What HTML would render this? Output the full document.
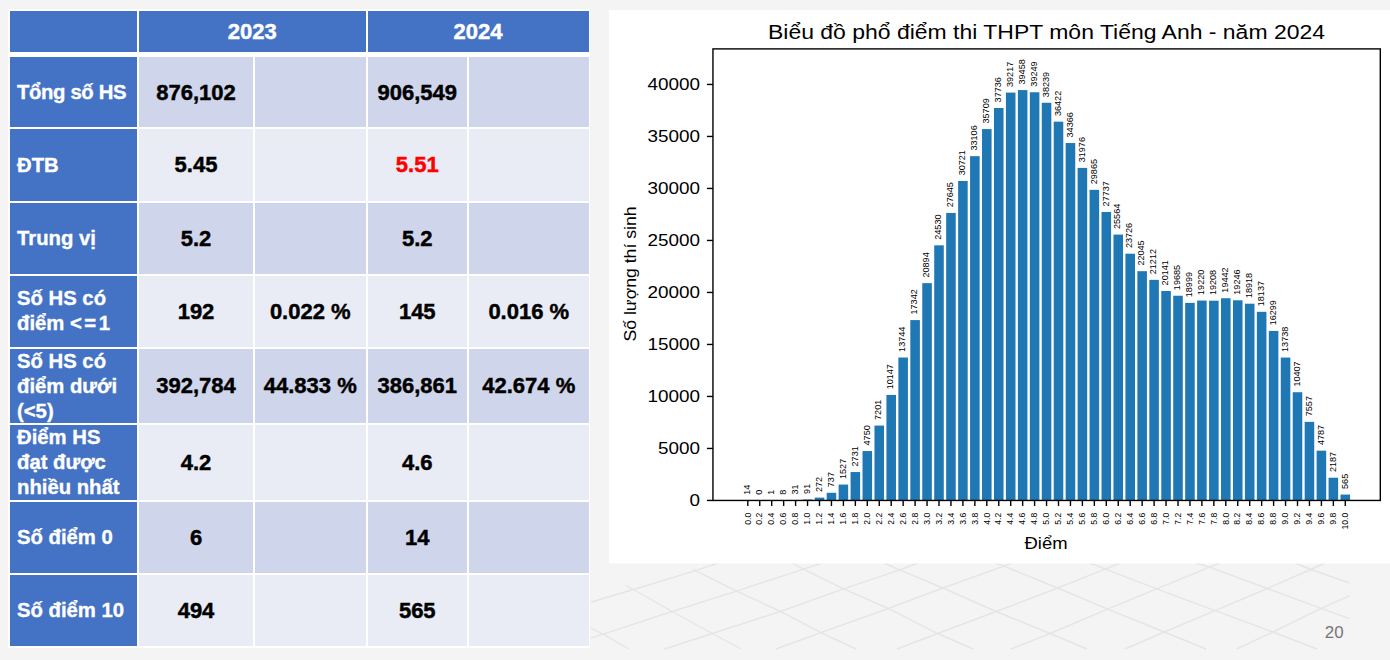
<!DOCTYPE html><html><head><meta charset="utf-8"><style>
html,body{margin:0;padding:0;}
body{width:1390px;height:660px;position:relative;overflow:hidden;background:#f4f4f4;font-family:"Liberation Sans",sans-serif;}
.c{position:absolute;padding-top:1px;display:flex;align-items:center;justify-content:center;box-sizing:border-box;font-weight:bold;color:#000;font-size:22px;-webkit-text-stroke:0.45px currentColor;}
.h{color:#fff;background:#4472c4;}
.f{color:#fff;background:#4472c4;justify-content:flex-start;padding-left:7px;padding-top:0.6px;font-size:20.3px;line-height:25px;-webkit-text-stroke:0.35px #fff;}
.b1{background:#cfd5ea;}.b2{background:#e9ebf5;}
</style></head><body>
<svg style="position:absolute;left:0;top:0" width="1390" height="660"><polyline points="591,602 633.5,589.5 695.6,570.6 718,563" fill="none" stroke="#e5e5e5" stroke-width="1.4"/><polyline points="591,638 603.2,634.2 672.1,611.5 736.5,591.1 803.5,569.1 822,563" fill="none" stroke="#e5e5e5" stroke-width="1.4"/><polyline points="664.6,649 712.3,633.5 780.5,611.5 843.6,588.8 899.7,569.8 918,563" fill="none" stroke="#e5e5e5" stroke-width="1.4"/><polyline points="776,649 820.9,632.7 888.3,608.5 942.9,588 1003.8,566.1 1012,563" fill="none" stroke="#e5e5e5" stroke-width="1.4"/><polyline points="897,649 937.6,633.5 996.2,611.5 1057.6,588 1105.3,569.1 1120,563" fill="none" stroke="#e5e5e5" stroke-width="1.4"/><polyline points="1011,649 1050,633.5 1107.6,609.2 1156.8,588.8 1209.6,567.1 1220,563" fill="none" stroke="#e5e5e5" stroke-width="1.4"/><polyline points="1125,649 1164.4,632 1215.1,610.6 1267.3,588.5 1310.9,569.5 1325,563" fill="none" stroke="#e5e5e5" stroke-width="1.4"/><polyline points="1236.5,649 1272.9,632 1321.2,608.3 1349.6,595.6" fill="none" stroke="#e5e5e5" stroke-width="1.4"/><polyline points="591,628.2 603.2,634.2 629,649" fill="none" stroke="#e5e5e5" stroke-width="1.4"/><polyline points="626,585.5 633.5,589.5 672.1,611.5 712.3,633.5 741,649" fill="none" stroke="#e5e5e5" stroke-width="1.4"/><polyline points="693,569.5 695.6,570.6 736.5,591.1 780.5,611.5 820.9,632.7 856,649" fill="none" stroke="#e5e5e5" stroke-width="1.4"/><polyline points="792,563 803.5,569.1 843.6,588.8 888.3,608.5 937.6,633.5 973,649" fill="none" stroke="#e5e5e5" stroke-width="1.4"/><polyline points="884,563 899.7,569.8 942.9,588 996.2,611.5 1050,633.5 1087,649" fill="none" stroke="#e5e5e5" stroke-width="1.4"/><polyline points="995,563 1003.8,566.1 1057.6,588 1107.6,609.2 1164.4,632 1206,649" fill="none" stroke="#e5e5e5" stroke-width="1.4"/><polyline points="1090,563 1105.3,569.1 1156.8,588.8 1215.1,610.6 1272.9,632 1317,649" fill="none" stroke="#e5e5e5" stroke-width="1.4"/><polyline points="1195,563 1209.6,567.1 1267.3,588.5 1321.2,608.3 1349.6,618.6" fill="none" stroke="#e5e5e5" stroke-width="1.4"/><polyline points="1295,563 1310.9,569.5 1349.6,583" fill="none" stroke="#e5e5e5" stroke-width="1.4"/></svg>
<div style="position:absolute;left:8px;top:8.6px;width:582px;height:639px;background:#fff"></div>
<div class="c h" style="left:10px;top:11px;width:127px;height:41px;"><div></div></div>
<div class="c h" style="left:139px;top:11px;width:226.5px;height:41px;"><div>2023</div></div>
<div class="c h" style="left:367.5px;top:11px;width:221px;height:41px;"><div>2024</div></div>
<div class="c f" style="left:10px;top:57px;width:127px;height:70px;"><div><span style="letter-spacing:-0.35px">Tổng số HS</span></div></div>
<div class="c b1" style="left:139px;top:57px;width:114px;height:70px;"><div>876,102</div></div>
<div class="c b1" style="left:255px;top:57px;width:110.5px;height:70px;"><div></div></div>
<div class="c b1" style="left:367.5px;top:57px;width:99.5px;height:70px;"><div>906,549</div></div>
<div class="c b1" style="left:469px;top:57px;width:119.5px;height:70px;"><div></div></div>
<div class="c f" style="left:10px;top:129px;width:127px;height:71.5px;"><div>ĐTB</div></div>
<div class="c b2" style="left:139px;top:129px;width:114px;height:71.5px;"><div>5.45</div></div>
<div class="c b2" style="left:255px;top:129px;width:110.5px;height:71.5px;"><div></div></div>
<div class="c b2" style="left:367.5px;top:129px;width:99.5px;height:71.5px;"><div><span style="color:#ff0000">5.51</span></div></div>
<div class="c b2" style="left:469px;top:129px;width:119.5px;height:71.5px;"><div></div></div>
<div class="c f" style="left:10px;top:202.5px;width:127px;height:71px;"><div>Trung vị</div></div>
<div class="c b1" style="left:139px;top:202.5px;width:114px;height:71px;"><div>5.2</div></div>
<div class="c b1" style="left:255px;top:202.5px;width:110.5px;height:71px;"><div></div></div>
<div class="c b1" style="left:367.5px;top:202.5px;width:99.5px;height:71px;"><div>5.2</div></div>
<div class="c b1" style="left:469px;top:202.5px;width:119.5px;height:71px;"><div></div></div>
<div class="c f" style="left:10px;top:275.5px;width:127px;height:71px;"><div>Số HS có<br>điểm <span style="letter-spacing:2.5px">&lt;=</span>1</div></div>
<div class="c b2" style="left:139px;top:275.5px;width:114px;height:71px;"><div>192</div></div>
<div class="c b2" style="left:255px;top:275.5px;width:110.5px;height:71px;"><div>0.022 %</div></div>
<div class="c b2" style="left:367.5px;top:275.5px;width:99.5px;height:71px;"><div>145</div></div>
<div class="c b2" style="left:469px;top:275.5px;width:119.5px;height:71px;"><div>0.016 %</div></div>
<div class="c f" style="left:10px;top:348.5px;width:127px;height:74.5px;"><div>Số HS có<br>điểm dưới<br>(&lt;5)</div></div>
<div class="c b1" style="left:139px;top:348.5px;width:114px;height:74.5px;"><div>392,784</div></div>
<div class="c b1" style="left:255px;top:348.5px;width:110.5px;height:74.5px;"><div>44.833 %</div></div>
<div class="c b1" style="left:367.5px;top:348.5px;width:99.5px;height:74.5px;"><div>386,861</div></div>
<div class="c b1" style="left:469px;top:348.5px;width:119.5px;height:74.5px;"><div>42.674 %</div></div>
<div class="c f" style="left:10px;top:425px;width:127px;height:75px;"><div>Điểm HS<br>đạt được<br>nhiều nhất</div></div>
<div class="c b2" style="left:139px;top:425px;width:114px;height:75px;"><div>4.2</div></div>
<div class="c b2" style="left:255px;top:425px;width:110.5px;height:75px;"><div></div></div>
<div class="c b2" style="left:367.5px;top:425px;width:99.5px;height:75px;"><div>4.6</div></div>
<div class="c b2" style="left:469px;top:425px;width:119.5px;height:75px;"><div></div></div>
<div class="c f" style="left:10px;top:502px;width:127px;height:71px;"><div>Số điểm 0</div></div>
<div class="c b1" style="left:139px;top:502px;width:114px;height:71px;"><div>6</div></div>
<div class="c b1" style="left:255px;top:502px;width:110.5px;height:71px;"><div></div></div>
<div class="c b1" style="left:367.5px;top:502px;width:99.5px;height:71px;"><div>14</div></div>
<div class="c b1" style="left:469px;top:502px;width:119.5px;height:71px;"><div></div></div>
<div class="c f" style="left:10px;top:575px;width:127px;height:71px;"><div>Số điểm 10</div></div>
<div class="c b2" style="left:139px;top:575px;width:114px;height:71px;"><div>494</div></div>
<div class="c b2" style="left:255px;top:575px;width:110.5px;height:71px;"><div></div></div>
<div class="c b2" style="left:367.5px;top:575px;width:99.5px;height:71px;"><div>565</div></div>
<div class="c b2" style="left:469px;top:575px;width:119.5px;height:71px;"><div></div></div>
<svg style="position:absolute;left:0;top:0" width="1390" height="660" font-family="Liberation Sans, sans-serif"><rect x="609" y="10" width="781" height="553.5" fill="#fff"/><rect x="743.02" y="500.30" width="9.56" height="0.15" fill="#1f77b4"/><text transform="translate(747.00,494.70) rotate(-90)" font-size="8.3" fill="#000" dominant-baseline="central" textLength="10.10" lengthAdjust="spacingAndGlyphs">14</text><line x1="747.80" y1="500.45" x2="747.80" y2="505.95" stroke="#000" stroke-width="1.4"/><text transform="translate(747.50,512.80) rotate(-90)" font-size="8.3" fill="#000" text-anchor="end" dominant-baseline="central" textLength="12.00" lengthAdjust="spacingAndGlyphs">0.0</text><rect x="754.97" y="500.45" width="9.56" height="0.00" fill="#1f77b4"/><text transform="translate(758.95,494.85) rotate(-90)" font-size="8.3" fill="#000" dominant-baseline="central" textLength="5.05" lengthAdjust="spacingAndGlyphs">0</text><line x1="759.75" y1="500.45" x2="759.75" y2="505.95" stroke="#000" stroke-width="1.4"/><text transform="translate(759.45,512.80) rotate(-90)" font-size="8.3" fill="#000" text-anchor="end" dominant-baseline="central" textLength="12.00" lengthAdjust="spacingAndGlyphs">0.2</text><rect x="766.92" y="500.44" width="9.56" height="0.01" fill="#1f77b4"/><text transform="translate(770.90,494.84) rotate(-90)" font-size="8.3" fill="#000" dominant-baseline="central" textLength="5.05" lengthAdjust="spacingAndGlyphs">1</text><line x1="771.70" y1="500.45" x2="771.70" y2="505.95" stroke="#000" stroke-width="1.4"/><text transform="translate(771.40,512.80) rotate(-90)" font-size="8.3" fill="#000" text-anchor="end" dominant-baseline="central" textLength="12.00" lengthAdjust="spacingAndGlyphs">0.4</text><rect x="778.87" y="500.37" width="9.56" height="0.08" fill="#1f77b4"/><text transform="translate(782.85,494.77) rotate(-90)" font-size="8.3" fill="#000" dominant-baseline="central" textLength="5.05" lengthAdjust="spacingAndGlyphs">8</text><line x1="783.65" y1="500.45" x2="783.65" y2="505.95" stroke="#000" stroke-width="1.4"/><text transform="translate(783.35,512.80) rotate(-90)" font-size="8.3" fill="#000" text-anchor="end" dominant-baseline="central" textLength="12.00" lengthAdjust="spacingAndGlyphs">0.6</text><rect x="790.82" y="500.13" width="9.56" height="0.32" fill="#1f77b4"/><text transform="translate(794.80,494.53) rotate(-90)" font-size="8.3" fill="#000" dominant-baseline="central" textLength="10.10" lengthAdjust="spacingAndGlyphs">31</text><line x1="795.60" y1="500.45" x2="795.60" y2="505.95" stroke="#000" stroke-width="1.4"/><text transform="translate(795.30,512.80) rotate(-90)" font-size="8.3" fill="#000" text-anchor="end" dominant-baseline="central" textLength="12.00" lengthAdjust="spacingAndGlyphs">0.8</text><rect x="802.77" y="499.50" width="9.56" height="0.95" fill="#1f77b4"/><text transform="translate(806.75,493.90) rotate(-90)" font-size="8.3" fill="#000" dominant-baseline="central" textLength="10.10" lengthAdjust="spacingAndGlyphs">91</text><line x1="807.55" y1="500.45" x2="807.55" y2="505.95" stroke="#000" stroke-width="1.4"/><text transform="translate(807.25,512.80) rotate(-90)" font-size="8.3" fill="#000" text-anchor="end" dominant-baseline="central" textLength="12.00" lengthAdjust="spacingAndGlyphs">1.0</text><rect x="814.72" y="497.62" width="9.56" height="2.83" fill="#1f77b4"/><text transform="translate(818.70,492.02) rotate(-90)" font-size="8.3" fill="#000" dominant-baseline="central" textLength="15.15" lengthAdjust="spacingAndGlyphs">272</text><line x1="819.50" y1="500.45" x2="819.50" y2="505.95" stroke="#000" stroke-width="1.4"/><text transform="translate(819.20,512.80) rotate(-90)" font-size="8.3" fill="#000" text-anchor="end" dominant-baseline="central" textLength="12.00" lengthAdjust="spacingAndGlyphs">1.2</text><rect x="826.67" y="492.79" width="9.56" height="7.66" fill="#1f77b4"/><text transform="translate(830.65,487.19) rotate(-90)" font-size="8.3" fill="#000" dominant-baseline="central" textLength="15.15" lengthAdjust="spacingAndGlyphs">737</text><line x1="831.45" y1="500.45" x2="831.45" y2="505.95" stroke="#000" stroke-width="1.4"/><text transform="translate(831.15,512.80) rotate(-90)" font-size="8.3" fill="#000" text-anchor="end" dominant-baseline="central" textLength="12.00" lengthAdjust="spacingAndGlyphs">1.4</text><rect x="838.62" y="484.57" width="9.56" height="15.88" fill="#1f77b4"/><text transform="translate(842.60,478.97) rotate(-90)" font-size="8.3" fill="#000" dominant-baseline="central" textLength="20.20" lengthAdjust="spacingAndGlyphs">1527</text><line x1="843.40" y1="500.45" x2="843.40" y2="505.95" stroke="#000" stroke-width="1.4"/><text transform="translate(843.10,512.80) rotate(-90)" font-size="8.3" fill="#000" text-anchor="end" dominant-baseline="central" textLength="12.00" lengthAdjust="spacingAndGlyphs">1.6</text><rect x="850.57" y="472.05" width="9.56" height="28.40" fill="#1f77b4"/><text transform="translate(854.55,466.45) rotate(-90)" font-size="8.3" fill="#000" dominant-baseline="central" textLength="20.20" lengthAdjust="spacingAndGlyphs">2731</text><line x1="855.35" y1="500.45" x2="855.35" y2="505.95" stroke="#000" stroke-width="1.4"/><text transform="translate(855.05,512.80) rotate(-90)" font-size="8.3" fill="#000" text-anchor="end" dominant-baseline="central" textLength="12.00" lengthAdjust="spacingAndGlyphs">1.8</text><rect x="862.52" y="451.05" width="9.56" height="49.40" fill="#1f77b4"/><text transform="translate(866.50,445.45) rotate(-90)" font-size="8.3" fill="#000" dominant-baseline="central" textLength="20.20" lengthAdjust="spacingAndGlyphs">4750</text><line x1="867.30" y1="500.45" x2="867.30" y2="505.95" stroke="#000" stroke-width="1.4"/><text transform="translate(867.00,512.80) rotate(-90)" font-size="8.3" fill="#000" text-anchor="end" dominant-baseline="central" textLength="12.00" lengthAdjust="spacingAndGlyphs">2.0</text><rect x="874.47" y="425.56" width="9.56" height="74.89" fill="#1f77b4"/><text transform="translate(878.45,419.96) rotate(-90)" font-size="8.3" fill="#000" dominant-baseline="central" textLength="20.20" lengthAdjust="spacingAndGlyphs">7201</text><line x1="879.25" y1="500.45" x2="879.25" y2="505.95" stroke="#000" stroke-width="1.4"/><text transform="translate(878.95,512.80) rotate(-90)" font-size="8.3" fill="#000" text-anchor="end" dominant-baseline="central" textLength="12.00" lengthAdjust="spacingAndGlyphs">2.2</text><rect x="886.42" y="394.92" width="9.56" height="105.53" fill="#1f77b4"/><text transform="translate(890.40,389.32) rotate(-90)" font-size="8.3" fill="#000" dominant-baseline="central" textLength="25.25" lengthAdjust="spacingAndGlyphs">10147</text><line x1="891.20" y1="500.45" x2="891.20" y2="505.95" stroke="#000" stroke-width="1.4"/><text transform="translate(890.90,512.80) rotate(-90)" font-size="8.3" fill="#000" text-anchor="end" dominant-baseline="central" textLength="12.00" lengthAdjust="spacingAndGlyphs">2.4</text><rect x="898.37" y="357.51" width="9.56" height="142.94" fill="#1f77b4"/><text transform="translate(902.35,351.91) rotate(-90)" font-size="8.3" fill="#000" dominant-baseline="central" textLength="25.25" lengthAdjust="spacingAndGlyphs">13744</text><line x1="903.15" y1="500.45" x2="903.15" y2="505.95" stroke="#000" stroke-width="1.4"/><text transform="translate(902.85,512.80) rotate(-90)" font-size="8.3" fill="#000" text-anchor="end" dominant-baseline="central" textLength="12.00" lengthAdjust="spacingAndGlyphs">2.6</text><rect x="910.32" y="320.09" width="9.56" height="180.36" fill="#1f77b4"/><text transform="translate(914.30,314.49) rotate(-90)" font-size="8.3" fill="#000" dominant-baseline="central" textLength="25.25" lengthAdjust="spacingAndGlyphs">17342</text><line x1="915.10" y1="500.45" x2="915.10" y2="505.95" stroke="#000" stroke-width="1.4"/><text transform="translate(914.80,512.80) rotate(-90)" font-size="8.3" fill="#000" text-anchor="end" dominant-baseline="central" textLength="12.00" lengthAdjust="spacingAndGlyphs">2.8</text><rect x="922.27" y="283.15" width="9.56" height="217.30" fill="#1f77b4"/><text transform="translate(926.25,277.55) rotate(-90)" font-size="8.3" fill="#000" dominant-baseline="central" textLength="25.25" lengthAdjust="spacingAndGlyphs">20894</text><line x1="927.05" y1="500.45" x2="927.05" y2="505.95" stroke="#000" stroke-width="1.4"/><text transform="translate(926.75,512.80) rotate(-90)" font-size="8.3" fill="#000" text-anchor="end" dominant-baseline="central" textLength="12.00" lengthAdjust="spacingAndGlyphs">3.0</text><rect x="934.22" y="245.34" width="9.56" height="255.11" fill="#1f77b4"/><text transform="translate(938.20,239.74) rotate(-90)" font-size="8.3" fill="#000" dominant-baseline="central" textLength="25.25" lengthAdjust="spacingAndGlyphs">24530</text><line x1="939.00" y1="500.45" x2="939.00" y2="505.95" stroke="#000" stroke-width="1.4"/><text transform="translate(938.70,512.80) rotate(-90)" font-size="8.3" fill="#000" text-anchor="end" dominant-baseline="central" textLength="12.00" lengthAdjust="spacingAndGlyphs">3.2</text><rect x="946.17" y="212.94" width="9.56" height="287.51" fill="#1f77b4"/><text transform="translate(950.15,207.34) rotate(-90)" font-size="8.3" fill="#000" dominant-baseline="central" textLength="25.25" lengthAdjust="spacingAndGlyphs">27645</text><line x1="950.95" y1="500.45" x2="950.95" y2="505.95" stroke="#000" stroke-width="1.4"/><text transform="translate(950.65,512.80) rotate(-90)" font-size="8.3" fill="#000" text-anchor="end" dominant-baseline="central" textLength="12.00" lengthAdjust="spacingAndGlyphs">3.4</text><rect x="958.12" y="180.95" width="9.56" height="319.50" fill="#1f77b4"/><text transform="translate(962.10,175.35) rotate(-90)" font-size="8.3" fill="#000" dominant-baseline="central" textLength="25.25" lengthAdjust="spacingAndGlyphs">30721</text><line x1="962.90" y1="500.45" x2="962.90" y2="505.95" stroke="#000" stroke-width="1.4"/><text transform="translate(962.60,512.80) rotate(-90)" font-size="8.3" fill="#000" text-anchor="end" dominant-baseline="central" textLength="12.00" lengthAdjust="spacingAndGlyphs">3.6</text><rect x="970.07" y="156.15" width="9.56" height="344.30" fill="#1f77b4"/><text transform="translate(974.05,150.55) rotate(-90)" font-size="8.3" fill="#000" dominant-baseline="central" textLength="25.25" lengthAdjust="spacingAndGlyphs">33106</text><line x1="974.85" y1="500.45" x2="974.85" y2="505.95" stroke="#000" stroke-width="1.4"/><text transform="translate(974.55,512.80) rotate(-90)" font-size="8.3" fill="#000" text-anchor="end" dominant-baseline="central" textLength="12.00" lengthAdjust="spacingAndGlyphs">3.8</text><rect x="982.02" y="129.08" width="9.56" height="371.37" fill="#1f77b4"/><text transform="translate(986.00,123.48) rotate(-90)" font-size="8.3" fill="#000" dominant-baseline="central" textLength="25.25" lengthAdjust="spacingAndGlyphs">35709</text><line x1="986.80" y1="500.45" x2="986.80" y2="505.95" stroke="#000" stroke-width="1.4"/><text transform="translate(986.50,512.80) rotate(-90)" font-size="8.3" fill="#000" text-anchor="end" dominant-baseline="central" textLength="12.00" lengthAdjust="spacingAndGlyphs">4.0</text><rect x="993.97" y="108.00" width="9.56" height="392.45" fill="#1f77b4"/><text transform="translate(997.95,102.40) rotate(-90)" font-size="8.3" fill="#000" dominant-baseline="central" textLength="25.25" lengthAdjust="spacingAndGlyphs">37736</text><line x1="998.75" y1="500.45" x2="998.75" y2="505.95" stroke="#000" stroke-width="1.4"/><text transform="translate(998.45,512.80) rotate(-90)" font-size="8.3" fill="#000" text-anchor="end" dominant-baseline="central" textLength="12.00" lengthAdjust="spacingAndGlyphs">4.2</text><rect x="1005.92" y="92.59" width="9.56" height="407.86" fill="#1f77b4"/><text transform="translate(1009.90,86.99) rotate(-90)" font-size="8.3" fill="#000" dominant-baseline="central" textLength="25.25" lengthAdjust="spacingAndGlyphs">39217</text><line x1="1010.70" y1="500.45" x2="1010.70" y2="505.95" stroke="#000" stroke-width="1.4"/><text transform="translate(1010.40,512.80) rotate(-90)" font-size="8.3" fill="#000" text-anchor="end" dominant-baseline="central" textLength="12.00" lengthAdjust="spacingAndGlyphs">4.4</text><rect x="1017.87" y="90.09" width="9.56" height="410.36" fill="#1f77b4"/><text transform="translate(1021.85,84.49) rotate(-90)" font-size="8.3" fill="#000" dominant-baseline="central" textLength="25.25" lengthAdjust="spacingAndGlyphs">39458</text><line x1="1022.65" y1="500.45" x2="1022.65" y2="505.95" stroke="#000" stroke-width="1.4"/><text transform="translate(1022.35,512.80) rotate(-90)" font-size="8.3" fill="#000" text-anchor="end" dominant-baseline="central" textLength="12.00" lengthAdjust="spacingAndGlyphs">4.6</text><rect x="1029.82" y="92.26" width="9.56" height="408.19" fill="#1f77b4"/><text transform="translate(1033.80,86.66) rotate(-90)" font-size="8.3" fill="#000" dominant-baseline="central" textLength="25.25" lengthAdjust="spacingAndGlyphs">39249</text><line x1="1034.60" y1="500.45" x2="1034.60" y2="505.95" stroke="#000" stroke-width="1.4"/><text transform="translate(1034.30,512.80) rotate(-90)" font-size="8.3" fill="#000" text-anchor="end" dominant-baseline="central" textLength="12.00" lengthAdjust="spacingAndGlyphs">4.8</text><rect x="1041.77" y="102.76" width="9.56" height="397.69" fill="#1f77b4"/><text transform="translate(1045.75,97.16) rotate(-90)" font-size="8.3" fill="#000" dominant-baseline="central" textLength="25.25" lengthAdjust="spacingAndGlyphs">38239</text><line x1="1046.55" y1="500.45" x2="1046.55" y2="505.95" stroke="#000" stroke-width="1.4"/><text transform="translate(1046.25,512.80) rotate(-90)" font-size="8.3" fill="#000" text-anchor="end" dominant-baseline="central" textLength="12.00" lengthAdjust="spacingAndGlyphs">5.0</text><rect x="1053.72" y="121.66" width="9.56" height="378.79" fill="#1f77b4"/><text transform="translate(1057.70,116.06) rotate(-90)" font-size="8.3" fill="#000" dominant-baseline="central" textLength="25.25" lengthAdjust="spacingAndGlyphs">36422</text><line x1="1058.50" y1="500.45" x2="1058.50" y2="505.95" stroke="#000" stroke-width="1.4"/><text transform="translate(1058.20,512.80) rotate(-90)" font-size="8.3" fill="#000" text-anchor="end" dominant-baseline="central" textLength="12.00" lengthAdjust="spacingAndGlyphs">5.2</text><rect x="1065.67" y="143.04" width="9.56" height="357.41" fill="#1f77b4"/><text transform="translate(1069.65,137.44) rotate(-90)" font-size="8.3" fill="#000" dominant-baseline="central" textLength="25.25" lengthAdjust="spacingAndGlyphs">34366</text><line x1="1070.45" y1="500.45" x2="1070.45" y2="505.95" stroke="#000" stroke-width="1.4"/><text transform="translate(1070.15,512.80) rotate(-90)" font-size="8.3" fill="#000" text-anchor="end" dominant-baseline="central" textLength="12.00" lengthAdjust="spacingAndGlyphs">5.4</text><rect x="1077.62" y="167.90" width="9.56" height="332.55" fill="#1f77b4"/><text transform="translate(1081.60,162.30) rotate(-90)" font-size="8.3" fill="#000" dominant-baseline="central" textLength="25.25" lengthAdjust="spacingAndGlyphs">31976</text><line x1="1082.40" y1="500.45" x2="1082.40" y2="505.95" stroke="#000" stroke-width="1.4"/><text transform="translate(1082.10,512.80) rotate(-90)" font-size="8.3" fill="#000" text-anchor="end" dominant-baseline="central" textLength="12.00" lengthAdjust="spacingAndGlyphs">5.6</text><rect x="1089.57" y="189.85" width="9.56" height="310.60" fill="#1f77b4"/><text transform="translate(1093.55,184.25) rotate(-90)" font-size="8.3" fill="#000" dominant-baseline="central" textLength="25.25" lengthAdjust="spacingAndGlyphs">29865</text><line x1="1094.35" y1="500.45" x2="1094.35" y2="505.95" stroke="#000" stroke-width="1.4"/><text transform="translate(1094.05,512.80) rotate(-90)" font-size="8.3" fill="#000" text-anchor="end" dominant-baseline="central" textLength="12.00" lengthAdjust="spacingAndGlyphs">5.8</text><rect x="1101.52" y="211.99" width="9.56" height="288.46" fill="#1f77b4"/><text transform="translate(1105.50,206.39) rotate(-90)" font-size="8.3" fill="#000" dominant-baseline="central" textLength="25.25" lengthAdjust="spacingAndGlyphs">27737</text><line x1="1106.30" y1="500.45" x2="1106.30" y2="505.95" stroke="#000" stroke-width="1.4"/><text transform="translate(1106.00,512.80) rotate(-90)" font-size="8.3" fill="#000" text-anchor="end" dominant-baseline="central" textLength="12.00" lengthAdjust="spacingAndGlyphs">6.0</text><rect x="1113.47" y="234.58" width="9.56" height="265.87" fill="#1f77b4"/><text transform="translate(1117.45,228.98) rotate(-90)" font-size="8.3" fill="#000" dominant-baseline="central" textLength="25.25" lengthAdjust="spacingAndGlyphs">25564</text><line x1="1118.25" y1="500.45" x2="1118.25" y2="505.95" stroke="#000" stroke-width="1.4"/><text transform="translate(1117.95,512.80) rotate(-90)" font-size="8.3" fill="#000" text-anchor="end" dominant-baseline="central" textLength="12.00" lengthAdjust="spacingAndGlyphs">6.2</text><rect x="1125.42" y="253.70" width="9.56" height="246.75" fill="#1f77b4"/><text transform="translate(1129.40,248.10) rotate(-90)" font-size="8.3" fill="#000" dominant-baseline="central" textLength="25.25" lengthAdjust="spacingAndGlyphs">23726</text><line x1="1130.20" y1="500.45" x2="1130.20" y2="505.95" stroke="#000" stroke-width="1.4"/><text transform="translate(1129.90,512.80) rotate(-90)" font-size="8.3" fill="#000" text-anchor="end" dominant-baseline="central" textLength="12.00" lengthAdjust="spacingAndGlyphs">6.4</text><rect x="1137.37" y="271.18" width="9.56" height="229.27" fill="#1f77b4"/><text transform="translate(1141.35,265.58) rotate(-90)" font-size="8.3" fill="#000" dominant-baseline="central" textLength="25.25" lengthAdjust="spacingAndGlyphs">22045</text><line x1="1142.15" y1="500.45" x2="1142.15" y2="505.95" stroke="#000" stroke-width="1.4"/><text transform="translate(1141.85,512.80) rotate(-90)" font-size="8.3" fill="#000" text-anchor="end" dominant-baseline="central" textLength="12.00" lengthAdjust="spacingAndGlyphs">6.6</text><rect x="1149.32" y="279.85" width="9.56" height="220.60" fill="#1f77b4"/><text transform="translate(1153.30,274.25) rotate(-90)" font-size="8.3" fill="#000" dominant-baseline="central" textLength="25.25" lengthAdjust="spacingAndGlyphs">21212</text><line x1="1154.10" y1="500.45" x2="1154.10" y2="505.95" stroke="#000" stroke-width="1.4"/><text transform="translate(1153.80,512.80) rotate(-90)" font-size="8.3" fill="#000" text-anchor="end" dominant-baseline="central" textLength="12.00" lengthAdjust="spacingAndGlyphs">6.8</text><rect x="1161.27" y="290.98" width="9.56" height="209.47" fill="#1f77b4"/><text transform="translate(1165.25,285.38) rotate(-90)" font-size="8.3" fill="#000" dominant-baseline="central" textLength="25.25" lengthAdjust="spacingAndGlyphs">20141</text><line x1="1166.05" y1="500.45" x2="1166.05" y2="505.95" stroke="#000" stroke-width="1.4"/><text transform="translate(1165.75,512.80) rotate(-90)" font-size="8.3" fill="#000" text-anchor="end" dominant-baseline="central" textLength="12.00" lengthAdjust="spacingAndGlyphs">7.0</text><rect x="1173.22" y="295.73" width="9.56" height="204.72" fill="#1f77b4"/><text transform="translate(1177.20,290.13) rotate(-90)" font-size="8.3" fill="#000" dominant-baseline="central" textLength="25.25" lengthAdjust="spacingAndGlyphs">19685</text><line x1="1178.00" y1="500.45" x2="1178.00" y2="505.95" stroke="#000" stroke-width="1.4"/><text transform="translate(1177.70,512.80) rotate(-90)" font-size="8.3" fill="#000" text-anchor="end" dominant-baseline="central" textLength="12.00" lengthAdjust="spacingAndGlyphs">7.2</text><rect x="1185.17" y="302.86" width="9.56" height="197.59" fill="#1f77b4"/><text transform="translate(1189.15,297.26) rotate(-90)" font-size="8.3" fill="#000" dominant-baseline="central" textLength="25.25" lengthAdjust="spacingAndGlyphs">18999</text><line x1="1189.95" y1="500.45" x2="1189.95" y2="505.95" stroke="#000" stroke-width="1.4"/><text transform="translate(1189.65,512.80) rotate(-90)" font-size="8.3" fill="#000" text-anchor="end" dominant-baseline="central" textLength="12.00" lengthAdjust="spacingAndGlyphs">7.4</text><rect x="1197.12" y="300.56" width="9.56" height="199.89" fill="#1f77b4"/><text transform="translate(1201.10,294.96) rotate(-90)" font-size="8.3" fill="#000" dominant-baseline="central" textLength="25.25" lengthAdjust="spacingAndGlyphs">19220</text><line x1="1201.90" y1="500.45" x2="1201.90" y2="505.95" stroke="#000" stroke-width="1.4"/><text transform="translate(1201.60,512.80) rotate(-90)" font-size="8.3" fill="#000" text-anchor="end" dominant-baseline="central" textLength="12.00" lengthAdjust="spacingAndGlyphs">7.6</text><rect x="1209.07" y="300.69" width="9.56" height="199.76" fill="#1f77b4"/><text transform="translate(1213.05,295.09) rotate(-90)" font-size="8.3" fill="#000" dominant-baseline="central" textLength="25.25" lengthAdjust="spacingAndGlyphs">19208</text><line x1="1213.85" y1="500.45" x2="1213.85" y2="505.95" stroke="#000" stroke-width="1.4"/><text transform="translate(1213.55,512.80) rotate(-90)" font-size="8.3" fill="#000" text-anchor="end" dominant-baseline="central" textLength="12.00" lengthAdjust="spacingAndGlyphs">7.8</text><rect x="1221.02" y="298.25" width="9.56" height="202.20" fill="#1f77b4"/><text transform="translate(1225.00,292.65) rotate(-90)" font-size="8.3" fill="#000" dominant-baseline="central" textLength="25.25" lengthAdjust="spacingAndGlyphs">19442</text><line x1="1225.80" y1="500.45" x2="1225.80" y2="505.95" stroke="#000" stroke-width="1.4"/><text transform="translate(1225.50,512.80) rotate(-90)" font-size="8.3" fill="#000" text-anchor="end" dominant-baseline="central" textLength="12.00" lengthAdjust="spacingAndGlyphs">8.0</text><rect x="1232.97" y="300.29" width="9.56" height="200.16" fill="#1f77b4"/><text transform="translate(1236.95,294.69) rotate(-90)" font-size="8.3" fill="#000" dominant-baseline="central" textLength="25.25" lengthAdjust="spacingAndGlyphs">19246</text><line x1="1237.75" y1="500.45" x2="1237.75" y2="505.95" stroke="#000" stroke-width="1.4"/><text transform="translate(1237.45,512.80) rotate(-90)" font-size="8.3" fill="#000" text-anchor="end" dominant-baseline="central" textLength="12.00" lengthAdjust="spacingAndGlyphs">8.2</text><rect x="1244.92" y="303.70" width="9.56" height="196.75" fill="#1f77b4"/><text transform="translate(1248.90,298.10) rotate(-90)" font-size="8.3" fill="#000" dominant-baseline="central" textLength="25.25" lengthAdjust="spacingAndGlyphs">18918</text><line x1="1249.70" y1="500.45" x2="1249.70" y2="505.95" stroke="#000" stroke-width="1.4"/><text transform="translate(1249.40,512.80) rotate(-90)" font-size="8.3" fill="#000" text-anchor="end" dominant-baseline="central" textLength="12.00" lengthAdjust="spacingAndGlyphs">8.4</text><rect x="1256.87" y="311.83" width="9.56" height="188.62" fill="#1f77b4"/><text transform="translate(1260.85,306.23) rotate(-90)" font-size="8.3" fill="#000" dominant-baseline="central" textLength="25.25" lengthAdjust="spacingAndGlyphs">18137</text><line x1="1261.65" y1="500.45" x2="1261.65" y2="505.95" stroke="#000" stroke-width="1.4"/><text transform="translate(1261.35,512.80) rotate(-90)" font-size="8.3" fill="#000" text-anchor="end" dominant-baseline="central" textLength="12.00" lengthAdjust="spacingAndGlyphs">8.6</text><rect x="1268.82" y="330.94" width="9.56" height="169.51" fill="#1f77b4"/><text transform="translate(1272.80,325.34) rotate(-90)" font-size="8.3" fill="#000" dominant-baseline="central" textLength="25.25" lengthAdjust="spacingAndGlyphs">16299</text><line x1="1273.60" y1="500.45" x2="1273.60" y2="505.95" stroke="#000" stroke-width="1.4"/><text transform="translate(1273.30,512.80) rotate(-90)" font-size="8.3" fill="#000" text-anchor="end" dominant-baseline="central" textLength="12.00" lengthAdjust="spacingAndGlyphs">8.8</text><rect x="1280.77" y="357.57" width="9.56" height="142.88" fill="#1f77b4"/><text transform="translate(1284.75,351.97) rotate(-90)" font-size="8.3" fill="#000" dominant-baseline="central" textLength="25.25" lengthAdjust="spacingAndGlyphs">13738</text><line x1="1285.55" y1="500.45" x2="1285.55" y2="505.95" stroke="#000" stroke-width="1.4"/><text transform="translate(1285.25,512.80) rotate(-90)" font-size="8.3" fill="#000" text-anchor="end" dominant-baseline="central" textLength="12.00" lengthAdjust="spacingAndGlyphs">9.0</text><rect x="1292.72" y="392.22" width="9.56" height="108.23" fill="#1f77b4"/><text transform="translate(1296.70,386.62) rotate(-90)" font-size="8.3" fill="#000" dominant-baseline="central" textLength="25.25" lengthAdjust="spacingAndGlyphs">10407</text><line x1="1297.50" y1="500.45" x2="1297.50" y2="505.95" stroke="#000" stroke-width="1.4"/><text transform="translate(1297.20,512.80) rotate(-90)" font-size="8.3" fill="#000" text-anchor="end" dominant-baseline="central" textLength="12.00" lengthAdjust="spacingAndGlyphs">9.2</text><rect x="1304.67" y="421.86" width="9.56" height="78.59" fill="#1f77b4"/><text transform="translate(1308.65,416.26) rotate(-90)" font-size="8.3" fill="#000" dominant-baseline="central" textLength="20.20" lengthAdjust="spacingAndGlyphs">7557</text><line x1="1309.45" y1="500.45" x2="1309.45" y2="505.95" stroke="#000" stroke-width="1.4"/><text transform="translate(1309.15,512.80) rotate(-90)" font-size="8.3" fill="#000" text-anchor="end" dominant-baseline="central" textLength="12.00" lengthAdjust="spacingAndGlyphs">9.4</text><rect x="1316.62" y="450.67" width="9.56" height="49.78" fill="#1f77b4"/><text transform="translate(1320.60,445.07) rotate(-90)" font-size="8.3" fill="#000" dominant-baseline="central" textLength="20.20" lengthAdjust="spacingAndGlyphs">4787</text><line x1="1321.40" y1="500.45" x2="1321.40" y2="505.95" stroke="#000" stroke-width="1.4"/><text transform="translate(1321.10,512.80) rotate(-90)" font-size="8.3" fill="#000" text-anchor="end" dominant-baseline="central" textLength="12.00" lengthAdjust="spacingAndGlyphs">9.6</text><rect x="1328.57" y="477.71" width="9.56" height="22.74" fill="#1f77b4"/><text transform="translate(1332.55,472.11) rotate(-90)" font-size="8.3" fill="#000" dominant-baseline="central" textLength="20.20" lengthAdjust="spacingAndGlyphs">2187</text><line x1="1333.35" y1="500.45" x2="1333.35" y2="505.95" stroke="#000" stroke-width="1.4"/><text transform="translate(1333.05,512.80) rotate(-90)" font-size="8.3" fill="#000" text-anchor="end" dominant-baseline="central" textLength="12.00" lengthAdjust="spacingAndGlyphs">9.8</text><rect x="1340.52" y="494.57" width="9.56" height="5.88" fill="#1f77b4"/><text transform="translate(1344.50,488.97) rotate(-90)" font-size="8.3" fill="#000" dominant-baseline="central" textLength="15.15" lengthAdjust="spacingAndGlyphs">565</text><line x1="1345.30" y1="500.45" x2="1345.30" y2="505.95" stroke="#000" stroke-width="1.4"/><text transform="translate(1345.00,512.80) rotate(-90)" font-size="8.3" fill="#000" text-anchor="end" dominant-baseline="central" textLength="16.60" lengthAdjust="spacingAndGlyphs">10.0</text><rect x="712.95" y="48.90" width="667.35" height="451.55" fill="none" stroke="#000" stroke-width="1.4"/><line x1="706.95" y1="500.45" x2="712.95" y2="500.45" stroke="#000" stroke-width="1.4"/><text x="700" y="500.45" font-size="17" fill="#000" text-anchor="end" dominant-baseline="central" textLength="10.50" lengthAdjust="spacingAndGlyphs">0</text><line x1="706.95" y1="448.45" x2="712.95" y2="448.45" stroke="#000" stroke-width="1.4"/><text x="700" y="448.45" font-size="17" fill="#000" text-anchor="end" dominant-baseline="central" textLength="42.00" lengthAdjust="spacingAndGlyphs">5000</text><line x1="706.95" y1="396.45" x2="712.95" y2="396.45" stroke="#000" stroke-width="1.4"/><text x="700" y="396.45" font-size="17" fill="#000" text-anchor="end" dominant-baseline="central" textLength="52.50" lengthAdjust="spacingAndGlyphs">10000</text><line x1="706.95" y1="344.45" x2="712.95" y2="344.45" stroke="#000" stroke-width="1.4"/><text x="700" y="344.45" font-size="17" fill="#000" text-anchor="end" dominant-baseline="central" textLength="52.50" lengthAdjust="spacingAndGlyphs">15000</text><line x1="706.95" y1="292.45" x2="712.95" y2="292.45" stroke="#000" stroke-width="1.4"/><text x="700" y="292.45" font-size="17" fill="#000" text-anchor="end" dominant-baseline="central" textLength="52.50" lengthAdjust="spacingAndGlyphs">20000</text><line x1="706.95" y1="240.45" x2="712.95" y2="240.45" stroke="#000" stroke-width="1.4"/><text x="700" y="240.45" font-size="17" fill="#000" text-anchor="end" dominant-baseline="central" textLength="52.50" lengthAdjust="spacingAndGlyphs">25000</text><line x1="706.95" y1="188.45" x2="712.95" y2="188.45" stroke="#000" stroke-width="1.4"/><text x="700" y="188.45" font-size="17" fill="#000" text-anchor="end" dominant-baseline="central" textLength="52.50" lengthAdjust="spacingAndGlyphs">30000</text><line x1="706.95" y1="136.45" x2="712.95" y2="136.45" stroke="#000" stroke-width="1.4"/><text x="700" y="136.45" font-size="17" fill="#000" text-anchor="end" dominant-baseline="central" textLength="52.50" lengthAdjust="spacingAndGlyphs">35000</text><line x1="706.95" y1="84.45" x2="712.95" y2="84.45" stroke="#000" stroke-width="1.4"/><text x="700" y="84.45" font-size="17" fill="#000" text-anchor="end" dominant-baseline="central" textLength="52.50" lengthAdjust="spacingAndGlyphs">40000</text><text x="1046.5" y="39" font-size="20.5" fill="#000" text-anchor="middle" textLength="557" lengthAdjust="spacingAndGlyphs">Biểu đồ phổ điểm thi THPT môn Tiếng Anh - năm 2024</text><text x="1046" y="549" font-size="17" fill="#000" text-anchor="middle" textLength="43" lengthAdjust="spacingAndGlyphs">Điểm</text><text transform="translate(636,274) rotate(-90)" font-size="17" fill="#000" text-anchor="middle" textLength="135" lengthAdjust="spacingAndGlyphs">Số lượng thí sinh</text><text x="1343.6" y="637.5" font-size="16.9" fill="#767676" text-anchor="end">20</text></svg>
</body></html>
